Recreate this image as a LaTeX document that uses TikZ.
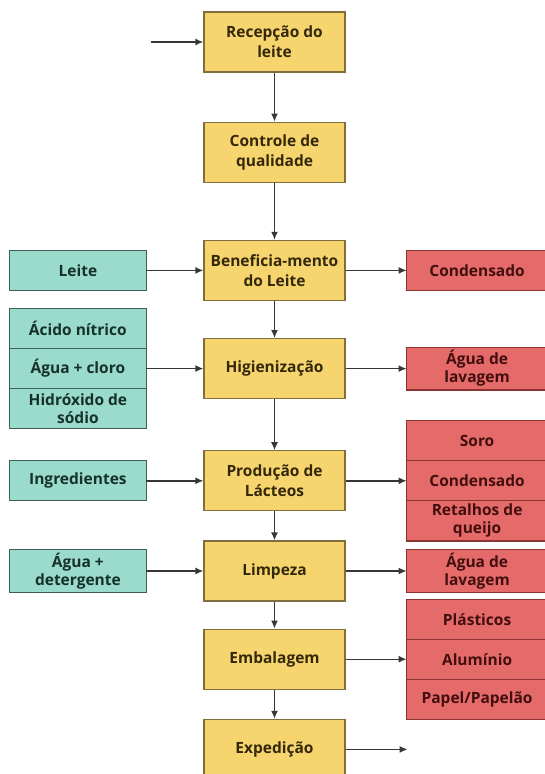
\documentclass[tikz,border=0pt]{standalone}
\usepackage{fontspec}
\setmainfont{Open Sans}
\usepackage{tikz}
\usetikzlibrary{arrows.meta,positioning}
\definecolor{etapafill}{RGB}{247,213,110}
\definecolor{etapadraw}{RGB}{128,110,60}
\definecolor{etapatext}{RGB}{52,40,10}
\definecolor{entradafill}{RGB}{154,219,203}
\definecolor{entradadraw}{RGB}{62,94,90}
\definecolor{entradatext}{RGB}{22,48,44}
\definecolor{saidafill}{RGB}{229,107,107}
\definecolor{saidadraw}{RGB}{139,51,51}
\definecolor{saidatext}{RGB}{66,14,14}
\definecolor{setacolor}{RGB}{55,55,55}

\begin{document}
\begin{tikzpicture}[
    x=1pt, y=-1pt,
    node distance=49pt and 57pt,
    etapa/.style={rectangle, draw=etapadraw, fill=etapafill, text=etapatext, minimum width=141pt, minimum height=60pt, align=center, line width=1.2pt, font=\bfseries\fontsize{15.5}{20}\selectfont},
    entrada/.style={rectangle, draw=entradadraw, fill=entradafill, text=entradatext, minimum width=137pt, minimum height=40pt, align=center, line width=1.2pt, outer sep=0pt, font=\bfseries\fontsize{15.5}{18}\selectfont},
    saida/.style={rectangle, draw=saidadraw, fill=saidafill, text=saidatext, minimum width=141pt, minimum height=40pt, align=center, line width=1.2pt, outer sep=0pt, font=\bfseries\fontsize{15.5}{18}\selectfont},
    arrow/.style={-{Latex[length=8pt,width=7pt]}, line width=1.4pt, setacolor},
]
\useasboundingbox (0,0) rectangle (545,774);
% main process column
\node[etapa] (recepcao) at (274.5,42) {Recepção do\\leite};
\node[etapa, below=of recepcao] (controle) {Controle de\\qualidade};
\node[etapa, below=57pt of controle] (benef) {Beneficia-mento\\do Leite};
\node[etapa, below=37pt of benef] (higien) {Higienização};
\node[etapa, below=51pt of higien] (producao) {Produção de\\Lácteos};
\node[etapa, below=29pt of producao] (limpeza) {Limpeza};
\node[etapa, below=27pt of limpeza] (embal) {Embalagem};
\node[etapa, below=29pt of embal] (exped) {Expedição};
% inputs
\node[entrada, left=of benef] (leite) {Leite};
\node[entrada, left=of higien] (agcloro) {Água + cloro};
\node[entrada, above=0pt of agcloro] (acido) {Ácido nítrico};
\node[entrada, below=0pt of agcloro] (hidrox) {Hidróxido de\\sódio};
\node[entrada, left=of producao] (ingred) {Ingredientes};
\node[entrada, left=of limpeza] (agdeterg) {Água +\\detergente};
% outputs
\node[saida, right=61pt of benef] (condens1) {Condensado};
\node[saida, right=61pt of higien] (aglav1) {Água de\\lavagem};
\node[saida, right=61pt of producao] (condens2) {Condensado};
\node[saida, above=0pt of condens2] (soro) {Soro};
\node[saida, below=0pt of condens2] (retalhos) {Retalhos de\\queijo};
\node[saida, right=61pt of limpeza] (aglav2) {Água de\\lavagem};
\node[saida, right=61pt of embal] (aluminio) {Alumínio};
\node[saida, above=0pt of aluminio] (plasticos) {Plásticos};
\node[saida, below=0pt of aluminio] (papel) {Papel/Papelão};
\coordinate[left=52pt of recepcao.west] (inicio);
\coordinate[right=62pt of exped.east] (fim);
% connectors
\draw[arrow] (inicio) -- (recepcao);
\draw[arrow] (recepcao) -- (controle);
\draw[arrow] (controle) -- (benef);
\draw[arrow] (benef) -- (higien);
\draw[arrow] (higien) -- (producao);
\draw[arrow] (producao) -- (limpeza);
\draw[arrow] (limpeza) -- (embal);
\draw[arrow] (embal) -- (exped);
\draw[arrow] (leite) -- (benef);
\draw[arrow] (agcloro) -- (higien);
\draw[arrow] (ingred) -- (producao);
\draw[arrow] (agdeterg) -- (limpeza);
\draw[arrow] (benef) -- (condens1);
\draw[arrow] (higien) -- (aglav1);
\draw[arrow] (producao) -- (condens2);
\draw[arrow] (limpeza) -- (aglav2);
\draw[arrow] (embal) -- (aluminio);
\draw[arrow] (exped) -- (fim);
\end{tikzpicture}
\end{document}
